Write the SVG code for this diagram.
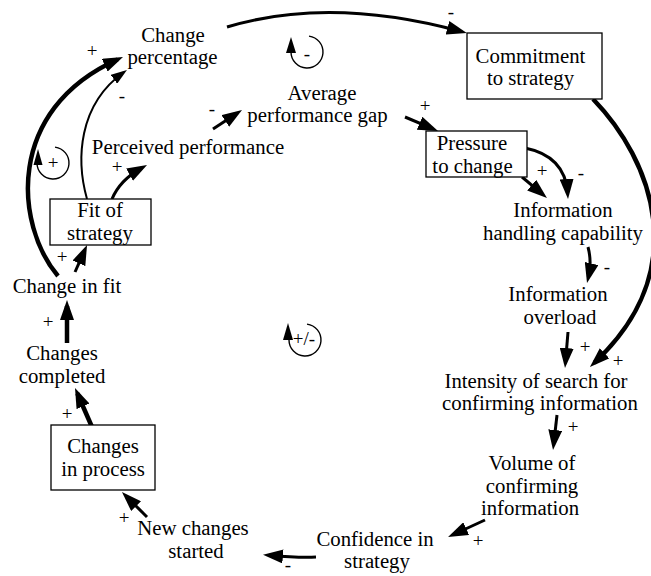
<svg xmlns="http://www.w3.org/2000/svg" width="651" height="576" viewBox="0 0 651 576" font-family="'Liberation Serif', 'Times New Roman', Times, serif">
<defs>
<marker id="a" markerUnits="userSpaceOnUse" markerWidth="20" markerHeight="14" refX="14" refY="7" orient="auto"><path d="M0,0 L20,7 L0,14 z" fill="#000"/></marker>
<marker id="s" markerUnits="userSpaceOnUse" markerWidth="16" markerHeight="11" refX="12" refY="5.5" orient="auto"><path d="M0,0 L16,5.5 L0,11 z" fill="#000"/></marker>
</defs>
<style>
text{font-size:20.8px;fill:#000;text-anchor:middle}
.sg{font-size:19px}
.box{fill:#fff;stroke:#000;stroke-width:1.3}
.c{fill:none;stroke:#000;stroke-width:3;marker-end:url(#a)}
.w{stroke-width:4.5}
.t{stroke-width:2;marker-end:url(#s)}
.loop{fill:none;stroke:#000;stroke-width:1.4}
</style>
<g id="connectors">
<path class="c" d="M227,27 Q330,-4 461,31.5"/>
<path class="c" d="M405,117 L432.5,128.7"/>
<path class="c" d="M522,177 L542.4,194.1"/>
<path class="c" d="M525,148 Q565,156 567.6,193"/>
<path class="c" d="M588,247 Q592,262 588.4,277.2"/>
<path class="c" d="M568,332 L565.5,362"/>
<path class="c w" d="M593,99 C652,160 694,270 594.3,362.8"/>
<path class="c" d="M557,415 L553.7,444"/>
<path class="c" d="M485,520 L453.5,534.5"/>
<path class="c" d="M316,557 Q300,558 269,555.2"/>
<path class="c" d="M147,517 L126.2,496.2"/>
<path class="c w" d="M92,427 L77.4,393.5"/>
<path class="c w" d="M67,343 L67,306"/>
<path class="c" d="M75,272 L84.6,250.5"/>
<path class="c w" d="M58,276 C15,225 5,110 117.5,59.5"/>
<path class="c t" d="M87,199 C76,160 78,105 123.7,72.3"/>
<path class="c" d="M112,199 Q120,180 141.8,167.9"/>
<path class="c" d="M213,129 L237,113.3"/>
<g id="signs">
<text class="sg" x="451" y="18">-</text>
<text class="sg" x="425" y="112">+</text>
<text class="sg" x="542" y="177">+</text>
<text class="sg" x="581" y="179">-</text>
<text class="sg" x="607" y="273">-</text>
<text class="sg" x="585" y="353">+</text>
<text class="sg" x="618" y="367">+</text>
<text class="sg" x="573" y="433">+</text>
<text class="sg" x="478" y="547">+</text>
<text class="sg" x="288" y="571">-</text>
<text class="sg" x="124" y="524">+</text>
<text class="sg" x="67" y="420">+</text>
<text class="sg" x="48" y="328">+</text>
<text class="sg" x="62" y="263">+</text>
<text class="sg" x="117" y="173">+</text>
<text class="sg" x="212" y="115">-</text>
<text class="sg" x="92" y="57">+</text>
<text class="sg" x="122" y="102">-</text>
</g>
</g>
<g id="loop-top">
<path class="loop" d="M309,36.1 A16,16 0 1 1 291,52"/>
<path d="M291,37 L286,53 L296,53 z"/>
<text class="sg" x="307" y="60">-</text>
</g>
<g id="loop-left">
<path class="loop" d="M55,147.1 A16,16 0 1 1 37,163"/>
<path d="M38,149 L33.5,165 L42.5,165 z"/>
<text class="sg" x="53" y="169">+</text>
</g>
<g id="loop-center">
<path class="loop" d="M307,324.1 A16,16 0 1 1 289,340"/>
<path d="M288,323 L283,340 L293,340 z"/>
<text class="sg" x="304" y="345">+/-</text>
</g>
<g id="change-percentage">
<text x="173" y="42">Change</text>
<text x="172.5" y="64">percentage</text>
</g>
<g id="commitment">
<rect class="box" x="467" y="33" width="135" height="66"/>
<text x="530.5" y="63">Commitment</text>
<text x="530.5" y="85">to strategy</text>
</g>
<g id="average-gap">
<text x="322" y="100">Average</text>
<text x="317.5" y="122">performance gap</text>
</g>
<g id="pressure">
<rect class="box" x="426" y="131" width="101" height="46"/>
<text x="472" y="150">Pressure</text>
<text x="472.5" y="173">to change</text>
</g>
<g id="info-handling">
<text x="563" y="217">Information</text>
<text x="563" y="240">handling capability</text>
</g>
<g id="info-overload">
<text x="558" y="301">Information</text>
<text x="560" y="324">overload</text>
</g>
<g id="intensity">
<text x="536" y="388">Intensity of search for</text>
<text x="540" y="410">confirming information</text>
</g>
<g id="volume">
<text x="532" y="470">Volume of</text>
<text x="532" y="493">confirming</text>
<text x="530" y="515">information</text>
</g>
<g id="confidence">
<text x="375" y="546">Confidence in</text>
<text x="377" y="568">strategy</text>
</g>
<g id="new-changes">
<text x="193" y="535">New changes</text>
<text x="196" y="558">started</text>
</g>
<g id="changes-in-process">
<rect class="box" x="51" y="425" width="104" height="65"/>
<text x="103" y="453">Changes</text>
<text x="103" y="476">in process</text>
</g>
<g id="changes-completed">
<text x="62" y="360">Changes</text>
<text x="62" y="383">completed</text>
</g>
<g id="change-in-fit">
<text x="67" y="293">Change in fit</text>
</g>
<g id="fit-of-strategy">
<rect class="box" x="50" y="199" width="101" height="46"/>
<text x="100" y="217">Fit of</text>
<text x="100" y="240">strategy</text>
</g>
<g id="perceived-performance">
<text x="188" y="154">Perceived performance</text>
</g>
</svg>
